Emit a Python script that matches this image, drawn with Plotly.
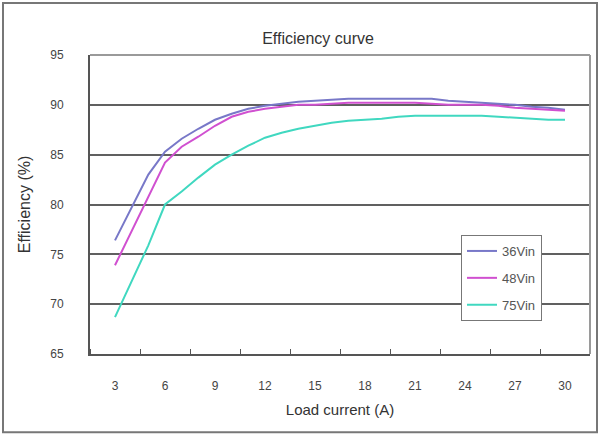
import plotly.graph_objects as go

load_current = list(range(3, 31))
eff_36vin = [76.4, 79.7, 83.0, 85.3, 86.6, 87.6, 88.5, 89.1, 89.6, 89.9, 90.1, 90.3, 90.4, 90.5,
             90.6, 90.6, 90.6, 90.6, 90.6, 90.6, 90.4, 90.3, 90.2, 90.1, 90.0, 89.8, 89.7, 89.5]
eff_48vin = [73.9, 77.3, 80.8, 84.2, 85.8, 86.8, 87.9, 88.8, 89.3, 89.6, 89.8, 90.0, 90.0, 90.1,
             90.2, 90.2, 90.2, 90.2, 90.2, 90.1, 90.0, 90.0, 90.0, 89.9, 89.7, 89.6, 89.5, 89.4]
eff_75vin = [68.7, 72.3, 75.9, 80.0, 81.3, 82.7, 84.0, 85.0, 85.9, 86.7, 87.2, 87.6, 87.9, 88.2,
             88.4, 88.5, 88.6, 88.8, 88.9, 88.9, 88.9, 88.9, 88.9, 88.8, 88.7, 88.6, 88.5, 88.5]
series_names = ["36Vin", "48Vin", "75Vin"]
x_ticks = [3, 6, 9, 12, 15, 18, 21, 24, 27, 30]
y_ticks = [65, 70, 75, 80, 85, 90, 95]

colors = ["#7878c8", "#d050d0", "#40d8c0"]
font_family = "Liberation Sans, Arial, sans-serif"

fig = go.Figure()
for name, vals, col in zip(series_names, [eff_36vin, eff_48vin, eff_75vin], colors):
    fig.add_trace(go.Scatter(x=load_current, y=vals, mode="lines", name=name,
                             legendgroup=name,
                             line=dict(color=col, width=2)))

# invisible trace on y2 so that gridlines can be drawn only inside
fig.add_trace(go.Scatter(x=[load_current[0]], y=[eff_36vin[0]], yaxis="y2",
                         mode="markers", marker=dict(opacity=0), showlegend=False,
                         hoverinfo="skip"))

fig.update_layout(
    width=600, height=437,
    margin=dict(l=90, r=10, t=55, b=83),
    paper_bgcolor="white", plot_bgcolor="white",
    font=dict(family=font_family, color="#333333"),
    title=dict(text="Efficiency curve", x=0.53, xanchor="center", y=0.913, yanchor="middle",
               font=dict(size=16, color="#333333")),
    xaxis=dict(range=[1.5, 31.5], tickvals=x_ticks, ticks="", showgrid=False,
               showline=True, linecolor="#555555", linewidth=2, automargin=False,
               minor=dict(tick0=1.5, dtick=3, ticks="inside", ticklen=5,
                          tickcolor="#555555", showgrid=False),
               tickfont=dict(size=12, color="#444444"), ticklabelstandoff=20,
               title=dict(text="Load current (A)", font=dict(size=15, color="#333333"),
                          standoff=12),
               zeroline=False),
    yaxis=dict(range=[65, 95], tickvals=y_ticks, ticks="", showgrid=False,
               showline=True, linecolor="#555555", linewidth=2, automargin=False,
               tickfont=dict(size=12, color="#444444"), ticklabelstandoff=22,
               title=dict(text="Efficiency (%)", font=dict(size=16, color="#333333"),
                          standoff=16),
               zeroline=False),
    yaxis2=dict(range=[65, 95], overlaying="y", tickvals=[70, 75, 80, 85, 90],
                showticklabels=False, showgrid=True, gridcolor="#606060", gridwidth=2,
                ticks="", zeroline=False, showline=False, automargin=False),
    legend=dict(x=0.742, y=0.398, xanchor="left", yanchor="top",
                bgcolor="white", bordercolor="#777777", borderwidth=1,
                font=dict(size=13, color="#555555", family=font_family),
                tracegroupgap=7, itemwidth=30),
    showlegend=True,
)

# top and right plot borders (light), plus outer chart frame
fig.add_shape(type="line", xref="paper", yref="paper", x0=0, x1=1, y0=1, y1=1,
              line=dict(color="#9a9a9a", width=2))
fig.add_shape(type="line", xref="paper", yref="paper", x0=1, x1=1, y0=0, y1=1,
              line=dict(color="#9a9a9a", width=2))
fig.add_shape(type="rect", xref="paper", yref="paper",
              x0=-0.174, x1=1.014, y0=-0.262, y1=1.174,
              line=dict(color="#777777", width=2), layer="below")

fig.write_html("out.html", config={"displayModeBar": False},
               post_script="document.body.style.margin='0px';document.body.style.padding='0px';")
